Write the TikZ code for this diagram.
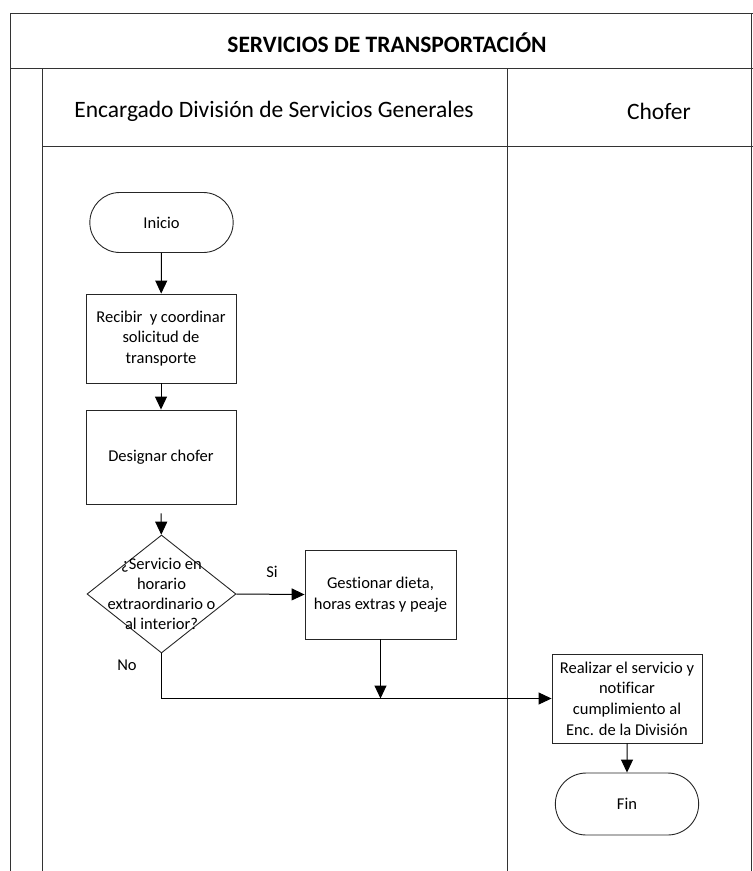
\documentclass[tikz,border=0pt]{standalone}
\usepackage{fontspec}
\setmainfont{Carlito}[Ligatures={NoCommon}]
\usetikzlibrary{shapes.geometric,shapes.misc,arrows.meta}
\tikzset{
  frameline/.style={line width=1pt, draw=black!80},
  box/.style={draw=black!85, line width=0.9pt, rectangle, minimum width=150pt,
    align=center, inner sep=2pt, font=\fontsize{16.5}{20.7}\selectfont},
  term/.style={draw=black!85, line width=0.9pt, rounded rectangle, minimum width=150pt,
    minimum height=60pt, align=center, font=\fontsize{16.5}{20.7}\selectfont},
  decision/.style={draw=black!85, line width=0.9pt, diamond, minimum width=149pt,
    minimum height=118pt, inner sep=0pt},
  lbl/.style={font=\fontsize{16.5}{20}\selectfont, align=center, inner sep=0pt},
  arr/.style={draw=black, line width=1pt, -{Triangle[width=12pt,length=13pt]}},
  header/.style={font=\fontsize{23.5}{27}\selectfont, inner sep=0pt}
}
\begin{document}
\begin{tikzpicture}[x=1pt,y=-1pt]
  \useasboundingbox (0,0) rectangle (753,871);
  % swimlane frame
  \draw[frameline] (10,871) -- (10,13) -- (753,13);
  \draw[frameline] (751,13) -- (751,871);
  \draw[frameline] (10,68) -- (753,68);
  \draw[frameline] (42,68) -- (42,871);
  \draw[frameline] (42,146) -- (753,146);
  \draw[frameline] (507,68) -- (507,871);
  % titles
  \node[header, font=\fontsize{23.5}{27}\selectfont\bfseries] (title) at (387,43) {SERVICIOS DE TRANSPORTACIÓN};
  \node[header] (lane1) at (274,111) {Encargado División de Servicios Generales};
  \node[header] (lane2) at (659,111) {Chofer};
  % flow nodes
  \node[term] (inicio) at (161.5,222.5) {Inicio};
  \node[box, minimum height=89pt] (recibir) at (161,338.5) {Recibir\ \ y coordinar\\solicitud de\\transporte};
  \node[box, minimum height=94pt] (designar) at (161,457) {Designar chofer};
  \node[decision] (dec) at (161.5,594) {};
  \node[lbl] (dectext) at (dec.center) {¿Servicio en\\horario\\extraordinario o\\al interior?};
  \node[box, minimum width=151pt, minimum height=89pt] (gest) at (380.5,594.5) {Gestionar dieta,\\horas extras y peaje};
  \node[box, minimum height=89pt] (realizar) at (627,698.5) {Realizar el servicio y\\notificar\\cumplimiento al\\Enc. de la División};
  \node[term, minimum height=62pt] (fin) at (627,804) {Fin};
  % labels
  \node[lbl] (si) at (272,572) {Si};
  \node[lbl] (no) at (127,665) {No};
  % connectors
  \draw[arr] (inicio) -- (recibir);
  \draw[arr] (recibir) -- (designar);
  \draw[arr, shorten <=9pt] (designar) -- (dec);
  \draw[arr] (dec.east) -- (gest.west);
  \draw[arr] (dec.south) |- (realizar.west);
  \draw[arr] (gest.south) -- (gest.south |- realizar.west);
  \draw[arr] (realizar) -- (fin);
\end{tikzpicture}
\end{document}
